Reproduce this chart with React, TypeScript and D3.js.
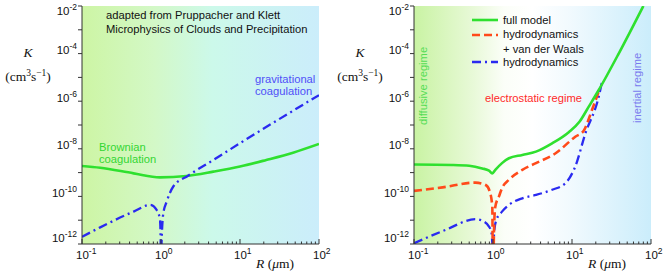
import React from 'react';
import * as d3 from 'd3';

// left panel: Pruppacher & Klett
const brownR = [0.1, 0.17, 0.45, 0.97, 2.1, 4.6, 10, 21.5, 47, 100];
const brownK = [1.9e-9, 1.6e-9, 9.3e-10, 6.3e-10, 7.2e-10, 1.1e-9, 1.8e-9, 3.4e-9, 6.9e-9, 1.6e-8];
const gravR = [0.1, 0.17, 0.45, 0.73, 0.88, 0.97, 0.995, 1.0, 1.01, 1.07, 1.18, 1.43, 2.2, 4.6, 11.5, 100];
const gravK = [2e-12, 5e-12, 2.3e-11, 4.4e-11, 2.7e-11, 1.1e-11, 5e-13, 1e-14, 5e-13, 1.95e-11, 6e-11, 2.6e-10, 7.4e-10, 3.4e-9, 2.3e-8, 1.8e-6];

// right panel: full model / hydro + vdW / hydro
const fullR = [0.1, 0.3, 0.5, 0.73, 0.89, 0.98, 1.07, 1.3, 1.59, 2.35, 3.5, 5.6, 9.1, 12.5, 16.3, 21.8, 39, 80];
const fullK = [2.2e-9, 2.1e-9, 1.95e-9, 1.5e-9, 1.2e-9, 9.3e-10, 1.3e-9, 2.5e-9, 4.0e-9, 5.5e-9, 7.6e-9, 1.7e-8, 5.0e-8, 1.4e-7, 5.9e-7, 2.95e-6, 1.0e-4, 1e-2];
const vdwR = [0.1, 0.23, 0.6, 0.81, 0.91, 0.98, 1.0, 1.03, 1.07, 1.19, 1.3, 1.59, 2.35, 3.5, 6.2, 11, 14, 17.9, 22];
const vdwK = [1.7e-10, 2.4e-10, 3.8e-10, 3.0e-10, 1.6e-10, 3.7e-11, 1e-14, 4e-12, 3.7e-11, 1.0e-10, 2.2e-10, 5e-10, 1.3e-9, 2.5e-9, 6.5e-9, 3.2e-8, 5.6e-8, 4.3e-7, 2.8e-6];
const hydroR = [0.1, 0.25, 0.6, 0.73, 0.89, 0.96, 0.99, 1.0, 1.01, 1.04, 1.1, 1.3, 1.59, 2.35, 3.5, 5.6, 8.2, 11, 14.8, 21.8, 24];
const hydroK = [1.07e-12, 3.9e-12, 1.1e-11, 9.5e-12, 5.4e-12, 2.8e-12, 3e-13, 1e-14, 3e-13, 3.9e-12, 1.0e-11, 2.3e-11, 4.4e-11, 8.3e-11, 1.15e-10, 1.9e-10, 3.5e-10, 1.8e-9, 4.5e-8, 1.55e-6, 6.6e-6];

const yTicks = [-2, -3, -4, -5, -6, -7, -8, -9, -10, -11, -12];
const yLabels = [-2, -4, -6, -8, -10, -12];
const xLabels = [-1, 0, 1, 2];

const GREEN = '#2fe02f';
const BLUE = '#2a2af0';
const RED = '#ff4a1a';
const sans = '"Liberation Sans", Arial, sans-serif';
const serif = '"Liberation Serif", "Times New Roman", serif';

const PW = 237;
const TOP = 6;
const BOT = 244;

function Panel({ x0, id, stops, lines, children }: any) {
  const x = d3.scaleLog().domain([0.1, 100]).range([x0, x0 + PW]);
  const y = d3.scaleLog().domain([1e-12, 1e-2]).range([BOT, TOP]);
  const line = d3
    .line<[number, number]>()
    .x((d) => x(d[0]))
    .y((d) => y(d[1]))
    .curve(d3.curveMonotoneX);

  const minor: number[] = [];
  [0.1, 1, 10].forEach((b) => {
    for (let i = 2; i <= 9; i++) minor.push(b * i);
  });

  return (
    <g>
      <defs>
        <linearGradient id={id} x1="0" x2="1" y1="0" y2="0">
          {stops.map((s: any, i: number) => (
            <stop key={i} offset={s[0]} stopColor={s[1]} />
          ))}
        </linearGradient>
        <clipPath id={id + 'c'}>
          <rect x={x0} y={TOP} width={PW} height={BOT - TOP} />
        </clipPath>
      </defs>
      <rect x={x0} y={TOP} width={PW} height={BOT - TOP} fill={`url(#${id})`} />
      <g clipPath={`url(#${id}c)`} fill="none">
        {lines.map((l: any, i: number) => (
          <path
            key={i}
            d={line(d3.zip(l.r, l.k) as any) || ''}
            stroke={l.color}
            strokeWidth={l.w}
            strokeDasharray={l.dash}
          />
        ))}
      </g>
      {/* axes */}
      <g stroke="#333" strokeWidth={1}>
        <line x1={x0} x2={x0} y1={TOP} y2={BOT} />
        <line x1={x0} x2={x0 + PW} y1={BOT} y2={BOT} />
        {yTicks.map((e) => (
          <line key={e} x1={x0 - 4} x2={x0} y1={y(Math.pow(10, e))} y2={y(Math.pow(10, e))} />
        ))}
        {xLabels.map((e) => (
          <line key={e} x1={x(Math.pow(10, e))} x2={x(Math.pow(10, e))} y1={BOT} y2={BOT - 5} />
        ))}
        {minor.map((v, i) => (
          <line key={i} x1={x(v)} x2={x(v)} y1={BOT} y2={BOT - 2.5} />
        ))}
      </g>
      <g fontFamily={sans} fontSize={11.5} fill="#111">
        {yLabels.map((e) => {
          const ty = Math.max(15, Math.min(242, y(Math.pow(10, e)) + 0.5));
          return (
            <text key={e} x={x0 - 5} y={ty} textAnchor="end">
              10<tspan dy={-5} fontSize={8.5}>{e}</tspan>
            </text>
          );
        })}
        {xLabels.map((e) => (
          <text key={e} x={x(Math.pow(10, e)) - 6} y={259}>
            10<tspan dy={-5} fontSize={8.5}>{e}</tspan>
          </text>
        ))}
      </g>
      <g fontFamily={serif} fontSize={13.5} fill="#111">
        <text x={x0 - 54} y={57} textAnchor="middle" fontStyle="italic">K</text>
        <text x={x0 - 54} y={81} textAnchor="middle">
          (cm<tspan dy={-5} fontSize={9.5}>3</tspan>
          <tspan dy={5}>s</tspan>
          <tspan dy={-5} fontSize={9.5}>−1</tspan>
          <tspan dy={5}>)</tspan>
        </text>
        <text x={x0 + PW - 63} y={268}>
          <tspan fontStyle="italic">R</tspan> (<tspan fontStyle="italic">μ</tspan>m)
        </text>
      </g>
      {children}
    </g>
  );
}

export default function App() {
  const leftStops = [
    [0, '#cdf5a4'],
    [0.3, '#d3f8c6'],
    [0.55, '#ccf9ea'],
    [1, '#cbedfb'],
  ];
  const rightStops = [
    [0, '#c9f3a3'],
    [0.25, '#e8f9d8'],
    [0.38, '#fbfef8'],
    [0.5, '#ffffff'],
    [0.65, '#f2fafe'],
    [1, '#cbedfb'],
  ];
  return (
    <svg width={670} height={274} style={{ position: 'absolute', left: 0, top: 0 }}>
      <rect width={670} height={274} fill="#fff" />
      <Panel
        x0={82}
        id="gl"
        stops={leftStops}
        lines={[
          { r: brownR, k: brownK, color: GREEN, w: 2.6 },
          { r: gravR, k: gravK, color: BLUE, w: 2.3, dash: '9,4,2,4' },
        ]}
      >
        <g fontFamily={sans} fontSize={11.2}>
          <text x={106} y={19} fill="#111">adapted from Pruppacher and Klett</text>
          <text x={106} y={33} fill="#111">Microphysics of Clouds and Precipitation</text>
          <text x={255} y={83} fill="#4f4ff8">gravitational</text>
          <text x={255} y={95} fill="#4f4ff8">coagulation</text>
          <text x={99} y={151} fill="#33d633">Brownian</text>
          <text x={99} y={163} fill="#33d633">coagulation</text>
        </g>
      </Panel>
      <Panel
        x0={414}
        id="gr"
        stops={rightStops}
        lines={[
          { r: hydroR, k: hydroK, color: BLUE, w: 2.3, dash: '9,4,2,4' },
          { r: vdwR, k: vdwK, color: RED, w: 2.6, dash: '8,4' },
          { r: fullR, k: fullK, color: GREEN, w: 2.6 },
        ]}
      >
        <g fontFamily={sans} fontSize={11.2}>
          <line x1={472} x2={498} y1={20} y2={20} stroke={GREEN} strokeWidth={2.6} />
          <line x1={472} x2={498} y1={35} y2={35} stroke={RED} strokeWidth={2.6} strokeDasharray="8,4" />
          <line x1={472} x2={498} y1={62} y2={62} stroke={BLUE} strokeWidth={2.3} strokeDasharray="9,4,2,4" />
          <text x={503} y={23.5} fill="#111">full model</text>
          <text x={503} y={38} fill="#111">hydrodynamics</text>
          <text x={503} y={52.5} fill="#111">+ van der Waals</text>
          <text x={503} y={65.5} fill="#111">hydrodynamics</text>
          <text x={485} y={102} fill="#ff2a2a">electrostatic regime</text>
          <text transform="translate(427,125) rotate(-90)" fill="#55dd55">diffusive regime</text>
          <text transform="translate(641,123) rotate(-90)" fill="#7a7aee">inertial regime</text>
        </g>
      </Panel>
    </svg>
  );
}
